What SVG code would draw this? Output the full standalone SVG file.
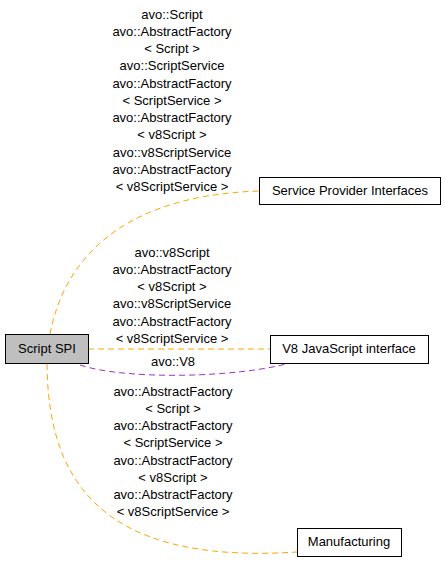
<svg xmlns="http://www.w3.org/2000/svg" width="445" height="563" viewBox="0 0 445 563">
<style>
text { font-family: "Liberation Sans", Arial, sans-serif; font-size: 13px; fill: #000; text-anchor: middle; }
.node { fill: #fff; stroke: #000; stroke-width: 1; }
.sel { fill: #bfbfbf; }
.e { fill: none; stroke-width: 1; stroke-dasharray: 6,4; }
.or { stroke: #ffa500; }
.pu { stroke: #9a32cd; }
</style>
<rect width="445" height="563" fill="#fff"/>
<g id="connectors">
<path class="e or" d="M50,334 C62,270 110,196 259,191"/>
<path class="e or" d="M88,349 L270,349"/>
<path class="e pu" d="M80,365 C125,380 235,378 290,363"/>
<path class="e or" d="M47,364 C48,480 100,565 297,552"/>
</g>
<g id="edge-labels">
<text x="172" y="19">avo::Script</text>
<text x="172" y="36">avo::AbstractFactory</text>
<text x="172" y="53">&lt; Script &gt;</text>
<text x="172" y="70">avo::ScriptService</text>
<text x="172" y="88">avo::AbstractFactory</text>
<text x="172" y="105">&lt; ScriptService &gt;</text>
<text x="172" y="122">avo::AbstractFactory</text>
<text x="172" y="139">&lt; v8Script &gt;</text>
<text x="172" y="157">avo::v8ScriptService</text>
<text x="172" y="174">avo::AbstractFactory</text>
<text x="172" y="191">&lt; v8ScriptService &gt;</text>
<text x="172" y="257">avo::v8Script</text>
<text x="172" y="274">avo::AbstractFactory</text>
<text x="172" y="291">&lt; v8Script &gt;</text>
<text x="172" y="308">avo::v8ScriptService</text>
<text x="172" y="326">avo::AbstractFactory</text>
<text x="172" y="343">&lt; v8ScriptService &gt;</text>
<text x="173" y="366">avo::V8</text>
<text x="173" y="396">avo::AbstractFactory</text>
<text x="173" y="413">&lt; Script &gt;</text>
<text x="173" y="430">avo::AbstractFactory</text>
<text x="173" y="447">&lt; ScriptService &gt;</text>
<text x="173" y="465">avo::AbstractFactory</text>
<text x="173" y="482">&lt; v8Script &gt;</text>
<text x="173" y="499">avo::AbstractFactory</text>
<text x="173" y="516">&lt; v8ScriptService &gt;</text>
</g>
<g id="node-script-spi">
<rect class="node sel" x="5.5" y="334.5" width="83" height="29"/>
<text x="47" y="353">Script SPI</text>
</g>
<g id="node-spi">
<rect class="node" x="259.5" y="177.5" width="181" height="27"/>
<text x="350" y="195">Service Provider Interfaces</text>
</g>
<g id="node-v8">
<rect class="node" x="270.5" y="335.5" width="158" height="28"/>
<text x="349" y="353">V8 JavaScript interface</text>
</g>
<g id="node-manufacturing">
<rect class="node" x="297.5" y="528.5" width="104" height="28"/>
<text x="349" y="546">Manufacturing</text>
</g>
</svg>
